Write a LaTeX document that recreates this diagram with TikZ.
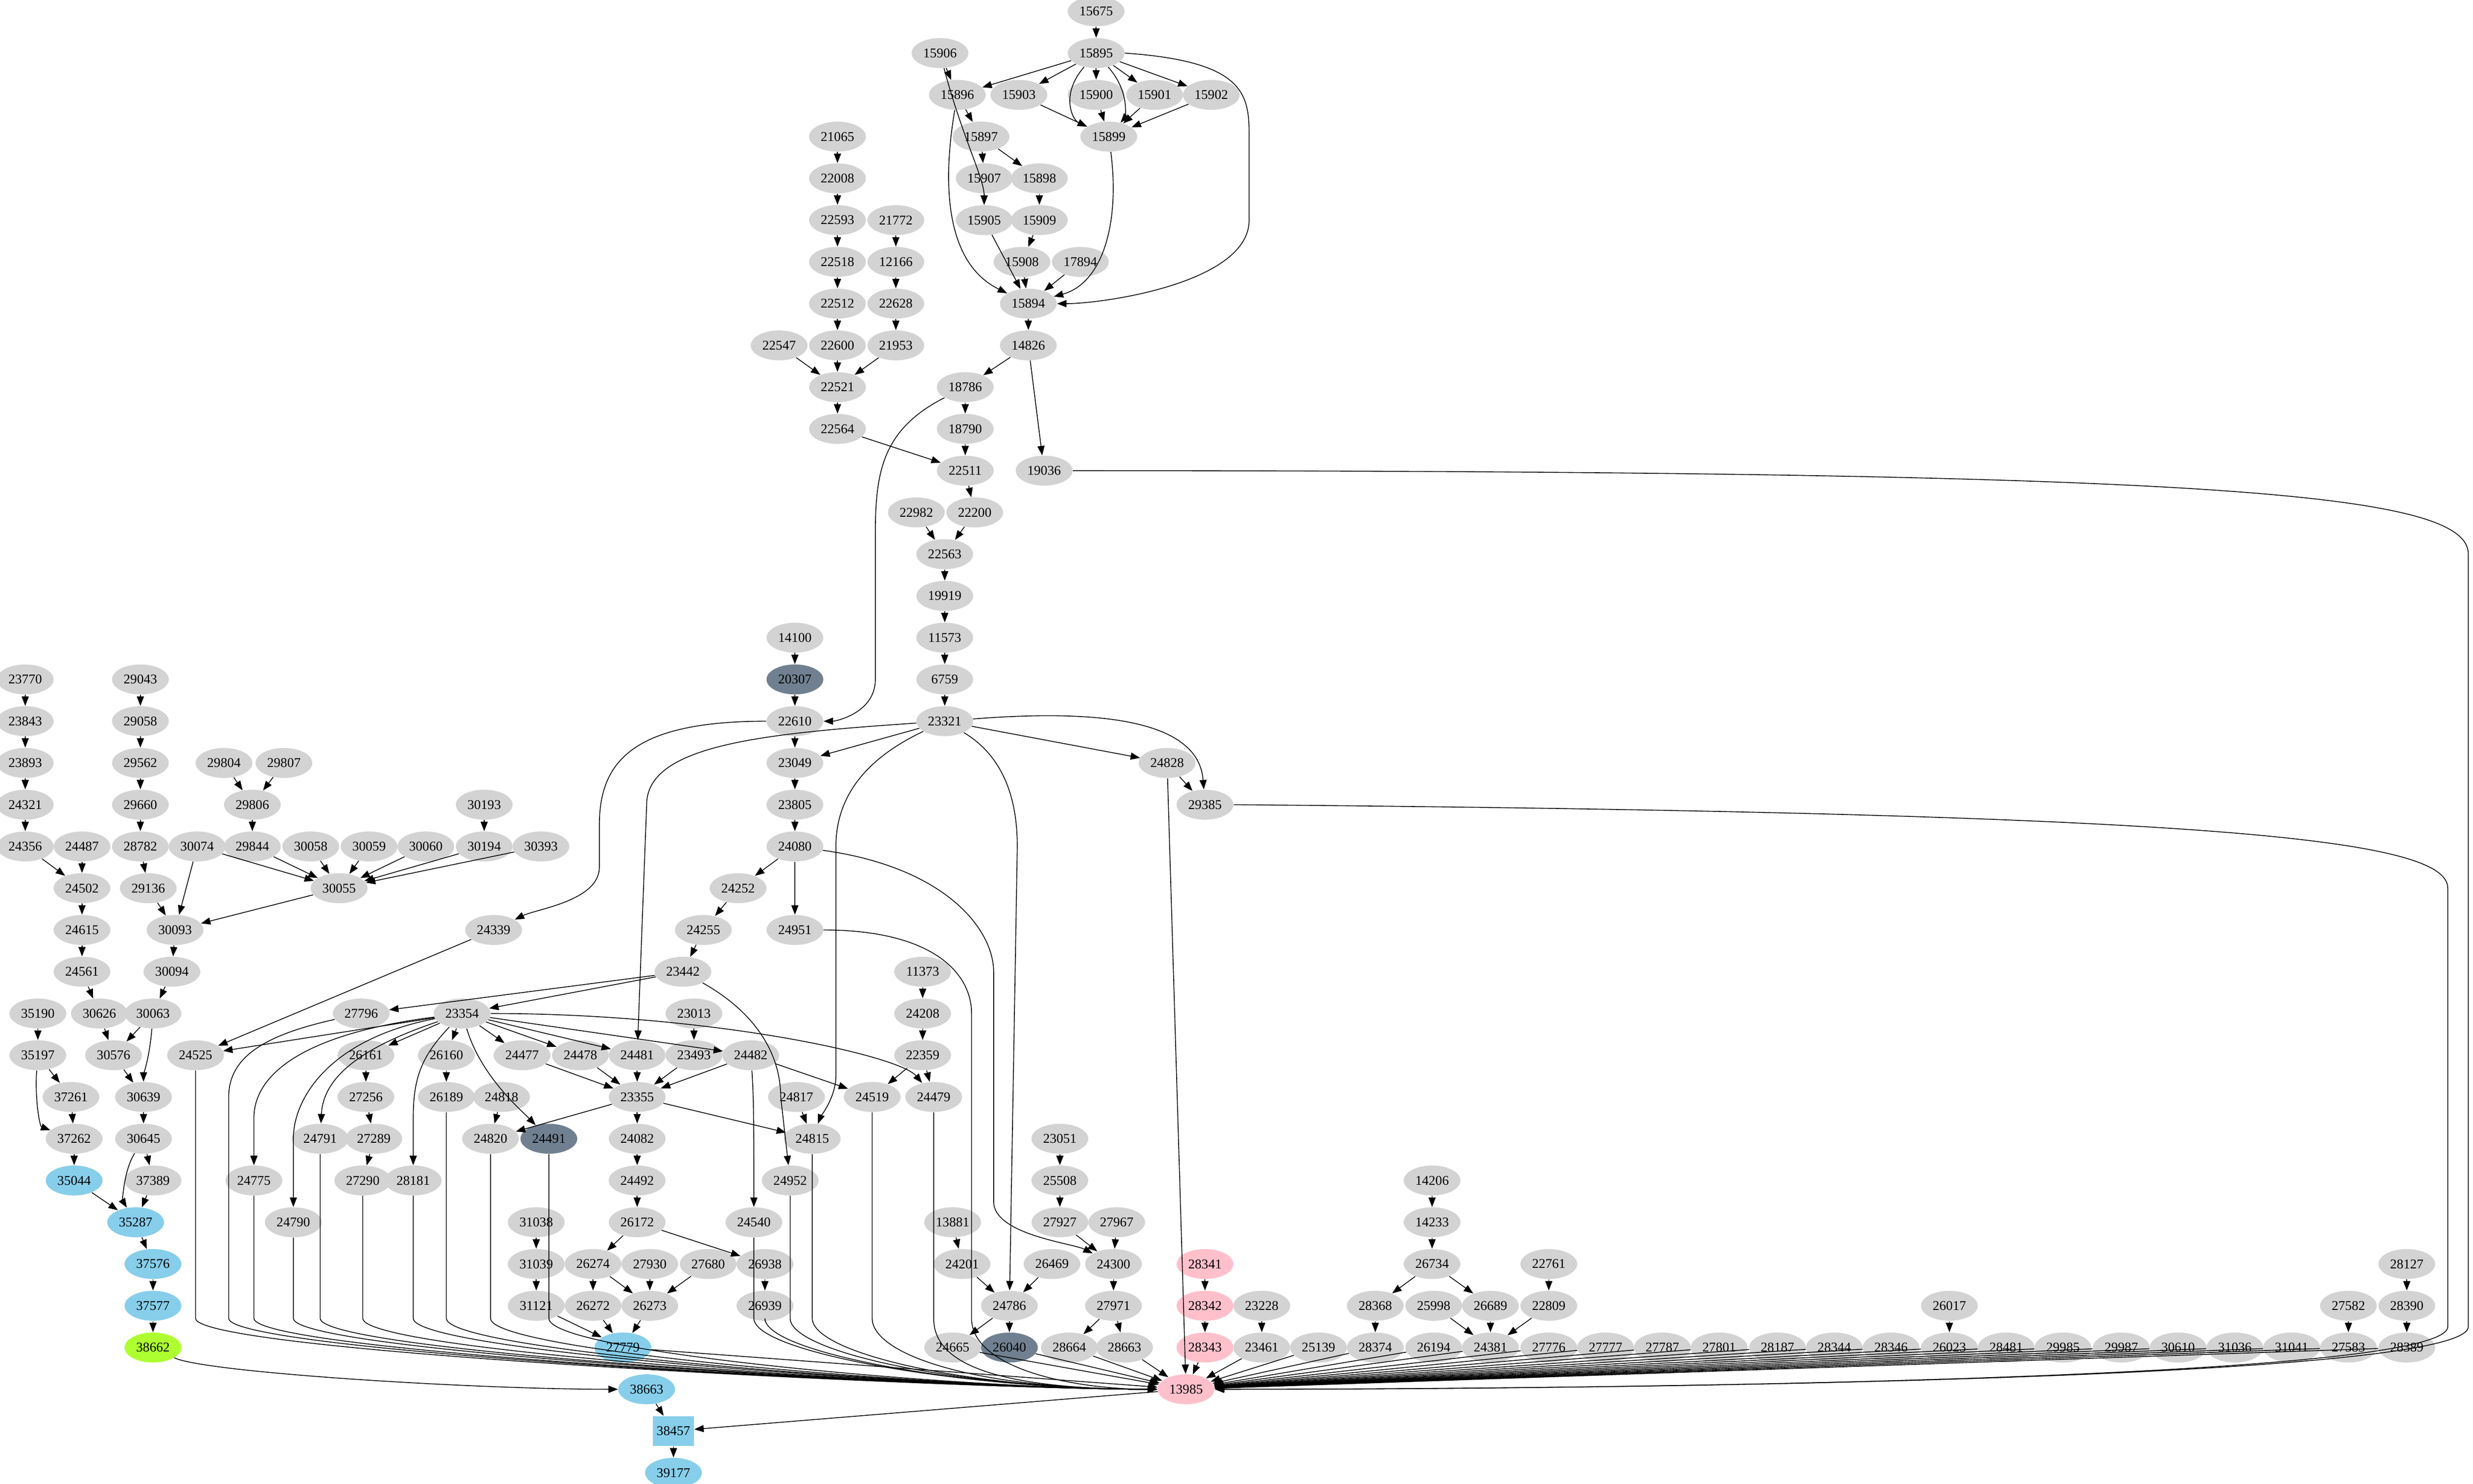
\documentclass[tikz,border=0pt]{standalone}
\usepackage{fontspec}
\setmainfont{Liberation Serif}
\usetikzlibrary{shapes.geometric,arrows.meta}
\definecolor{lg}{HTML}{D3D3D3}
\definecolor{slate}{HTML}{708090}
\definecolor{sky}{HTML}{87CEEB}
\definecolor{gy}{HTML}{ADFF2F}
\definecolor{pk}{HTML}{FFC0CB}
\newcommand\rk[1]{{-7.2-26.48*#1}}
\tikzset{
  g/.style={ellipse,fill=lg,inner sep=0pt,minimum width=36pt,minimum height=19pt,font=\fontsize{8.5}{9}\selectfont},
  e/.style={draw=black,line width=0.5pt,-{Triangle[length=6pt,width=4.5pt]}},
}
\newcommand\Eg[2]{\draw[e] (n#1) -- (n#2);}
\newcommand\Ldown[1]{\draw[e] (n#1) -- (n#1 |- 0,\rk{31.3}) .. controls +(0,-22) and +(-120,0) .. (n13985.west);}
\begin{document}
\begin{tikzpicture}[x=1pt,y=1pt]
\useasboundingbox (0,0) rectangle (1568,-941);
\foreach \r/\lst in {0/{15675/695},1/{15906/596,15895/695},
2/{15896/607,15903/646,15900/695,15901/732,15902/768},
3/{21065/531,15897/622,15899/703},4/{22008/531,15907/624,15898/659},
5/{22593/531,21772/568,15905/624,15909/659},6/{22518/531,12166/568,15908/648,17894/685},
7/{22512/531,22628/568,15894/652},8/{22547/494,22600/531,21953/568,14826/652},
9/{22521/531,18786/612},10/{22564/531,18790/612},11/{22511/612,19036/662},
12/{22982/581,22200/618},13/{22563/599},14/{19919/599},15/{14100/504,11573/599},
16/{23770/16,29043/89,6759/599},17/{23843/16,29058/89,22610/504,23321/599},
18/{23893/16,29562/89,29804/142,29807/180,23049/504,24828/740},
19/{24321/16,29660/89,29806/160,30193/307,23805/504,29385/764},
20/{24356/16,24487/52,28782/89,30074/125,29844/160,30058/197,30059/234,30060/270,30194/307,30393/343,24080/504},
21/{24502/52,29136/94,30055/215,24252/468},
22/{24615/52,30093/111,24339/313,24255/446,24951/504},
23/{24561/52,30094/109,23442/433,11373/585},
24/{35190/24,30626/63,30063/97,27796/229,23354/293,23013/440,24208/585},
25/{35197/24,30576/72,24525/124,26161/232,26160/283,24477/331,24478/368,24481/404,23493/440,24482/476,22359/585},
26/{37261/45,30639/91,27256/232,26189/283,24818/318,23355/404,24817/505,24519/553,24479/592},
27/{37262/47,30645/91,24791/203,27289/237,24820/311,24082/404,24815/515,23051/672},
28/{37389/97,24775/161,27290/230,28181/262,24492/404,24952/501,25508/672,14206/908},
29/{24790/186,31038/340,26172/404,24540/478,13881/604,27927/672,27967/708,14233/908},
30/{31039/340,26274/376,27930/412,27680/449,26938/485,24201/610,26469/667,24300/706,26734/908,22761/982,28127/1526},
31/{31121/340,26272/376,26273/412,26939/485,24786/640,27971/706,23228/800,28368/872,25998/909,26689/945,22809/982,26017/1236,27582/1489,28390/1526},
32/{24665/604,28664/678,28663/713,23461/800,25139/836,28374/872,26194/909,24381/945,27776/982,27777/1018,27787/1054,27801/1090,28187/1127,28344/1163,28346/1199,26023/1236,28481/1272,29985/1308,29987/1345,30610/1381,31036/1417,31041/1453,27583/1489,28389/1526}}{
  \foreach \n/\x in \lst { \node[g] (n\n) at (\x,\rk{\r}) {\n}; }
}
\node[g,fill=slate] (n20307) at (504,\rk{16}) {20307};
\node[g,fill=slate] (n24491) at (348,\rk{27}) {24491};
\node[g,fill=slate] (n26040) at (640,\rk{32}) {26040};
\node[g,fill=sky] (n35044) at (47,\rk{28}) {35044};
\node[g,fill=sky] (n35287) at (86,\rk{29}) {35287};
\node[g,fill=sky] (n37576) at (97,\rk{30}) {37576};
\node[g,fill=sky] (n37577) at (97,\rk{31}) {37577};
\node[g,fill=gy] (n38662) at (97,\rk{32}) {38662};
\node[g,fill=sky] (n27779) at (395,\rk{32}) {27779};
\node[g,fill=pk] (n28341) at (764,\rk{30}) {28341};
\node[g,fill=pk] (n28342) at (764,\rk{31}) {28342};
\node[g,fill=pk] (n28343) at (764,\rk{32}) {28343};
\node[g,fill=pk] (n13985) at (752,\rk{33}) {13985};
\node[g,fill=sky] (n38663) at (410,\rk{33}) {38663};
\node[g,rectangle,fill=sky,minimum width=26pt] (n38457) at (427,\rk{34}) {38457};
\node[g,fill=sky] (n39177) at (427,\rk{35}) {39177};
% top cluster
\Eg{15675}{15895}
\foreach \b in {15896,15903,15900,15901,15902} {\Eg{15895}{\b}}
\draw[e] (n15895) .. controls (672,\rk{2}) and (680,\rk{2.6}) .. (n15899);
\draw[e] (n15895) .. controls (718,\rk{2}) and (712,\rk{2.6}) .. (n15899);
\draw[e] (n15895.east) .. controls (790,\rk{1.2}) and (792,\rk{2}) .. (792,\rk{3}) -- (792,\rk{5}) .. controls (792,\rk{6.5}) and (700,\rk{7}) .. (n15894.east);
\Eg{15906}{15896}
\draw[e] (n15906) .. controls (610,\rk{3}) and (624,\rk{4}) .. (n15905);
\draw[e] (n15896) .. controls (598,\rk{4}) and (598,\rk{6}) .. (n15894);
\foreach \a in {15903,15900,15901,15902} {\Eg{\a}{15899}}
\Eg{15896}{15897}\Eg{15897}{15907}\Eg{15897}{15898}\Eg{15907}{15905}\Eg{15898}{15909}
\Eg{15909}{15908}\Eg{15905}{15894}\Eg{15908}{15894}\Eg{17894}{15894}
\draw[e] (n15899) .. controls (710,\rk{5}) and (700,\rk{6.5}) .. (n15894);
\Eg{15894}{14826}\Eg{14826}{18786}\Eg{14826}{19036}\Eg{18786}{18790}\Eg{18790}{22511}
\draw[e] (n18786) .. controls (560,\rk{10}) and (555,\rk{11}) .. (555,\rk{12.5}) -- (555,\rk{16}) .. controls (555,\rk{16.8}) and (530,\rk{17}) .. (n22610);
\Eg{22564}{22511}\Eg{22511}{22200}\Eg{22982}{22563}\Eg{22200}{22563}
\Eg{22563}{19919}\Eg{19919}{11573}\Eg{11573}{6759}\Eg{6759}{23321}
\Eg{21065}{22008}\Eg{22008}{22593}\Eg{22593}{22518}\Eg{22518}{22512}\Eg{22512}{22600}\Eg{22600}{22521}
\Eg{22547}{22521}\Eg{21772}{12166}\Eg{12166}{22628}\Eg{22628}{21953}\Eg{21953}{22521}\Eg{22521}{22564}
\draw[e] (n19036.east) .. controls (1400,\rk{11}) and (1565,\rk{11.5}) .. (1565,\rk{13}) -- (1565,\rk{31.5}) .. controls (1565,\rk{32.8}) and (1000,\rk{33}) .. (n13985.east);
\Eg{14100}{20307}\Eg{20307}{22610}
% middle
\Eg{22610}{23049}
\draw[e] (n22610.west) .. controls (400,\rk{17}) and (380,\rk{18}) .. (380,\rk{19.5}) -- (380,\rk{20.5}) .. controls (380,\rk{21.3}) and (340,\rk{21.5}) .. (n24339);
\Eg{23321}{23049}\Eg{23321}{24828}
\draw[e] (n23321) .. controls (700,\rk{16.7}) and (760,\rk{17}) .. (n29385);
\draw[e] (n23321) .. controls (480,\rk{17.3}) and (410,\rk{17.6}) .. (410,\rk{19}) -- (n24481);
\draw[e] (n23321) .. controls (560,\rk{17.7}) and (530,\rk{18.5}) .. (530,\rk{20}) -- (530,\rk{25.5}) .. controls (530,\rk{26}) and (520,\rk{26.5}) .. (n24815);
\draw[e] (n23321) .. controls (630,\rk{17.7}) and (645,\rk{18.5}) .. (645,\rk{20}) -- (n24786);
\Eg{24828}{29385}\Eg{24828}{13985}
\draw[e] (n29385.east) .. controls (1400,\rk{19.2}) and (1552,\rk{19.8}) .. (1552,\rk{21}) -- (1552,\rk{31.5}) .. controls (1552,\rk{32.8}) and (1000,\rk{33}) .. (n13985.east);
\Eg{23049}{23805}\Eg{23805}{24080}\Eg{24080}{24252}\Eg{24080}{24951}
\draw[e] (n24080) .. controls (600,\rk{20.5}) and (630,\rk{22}) .. (630,\rk{23}) -- (630,\rk{28.5}) .. controls (630,\rk{29.3}) and (680,\rk{29.5}) .. (n24300);
\draw[e] (n24951) .. controls (590,\rk{22}) and (616,\rk{23}) .. (616,\rk{24}) -- (616,\rk{31.3}) .. controls (616,\rk{32.5}) and (680,\rk{33}) .. (n13985.west);
\Eg{24252}{24255}\Eg{24255}{23442}\Eg{23442}{27796}\Eg{23442}{23354}
\draw[e] (n23442) .. controls (480,\rk{24}) and (495,\rk{25}) .. (495,\rk{26}) -- (n24952);
\Eg{24339}{24525}
% left
\Eg{23770}{23843}\Eg{23843}{23893}\Eg{23893}{24321}\Eg{24321}{24356}\Eg{24356}{24502}\Eg{24487}{24502}
\Eg{24502}{24615}\Eg{24615}{24561}\Eg{24561}{30626}\Eg{30626}{30576}\Eg{30063}{30576}\Eg{30576}{30639}
\draw[e] (n30063) .. controls (95,\rk{25}) and (91,\rk{25.5}) .. (n30639);
\Eg{30639}{30645}\Eg{30645}{37389}\Eg{37389}{35287}
\draw[e] (n30645) .. controls (78,\rk{27.8}) and (78,\rk{28.5}) .. (n35287);
\Eg{35190}{35197}\Eg{35197}{37261}
\draw[e] (n35197) .. controls (22,\rk{26}) and (25,\rk{26.7}) .. (n37262);
\Eg{37261}{37262}\Eg{37262}{35044}\Eg{35044}{35287}\Eg{35287}{37576}\Eg{37576}{37577}\Eg{37577}{38662}
\draw[e] (n38662) .. controls (130,\rk{32.6}) and (300,\rk{33}) .. (n38663);
\Eg{29043}{29058}\Eg{29058}{29562}\Eg{29562}{29660}\Eg{29660}{28782}\Eg{28782}{29136}\Eg{29136}{30093}
\Eg{30074}{30093}\Eg{30074}{30055}\Eg{29804}{29806}\Eg{29807}{29806}\Eg{29806}{29844}\Eg{29844}{30055}
\foreach \a in {30058,30059,30060,30194,30393} {\Eg{\a}{30055}}
\Eg{30193}{30194}\Eg{30055}{30093}\Eg{30093}{30094}\Eg{30094}{30063}
% 23354 fan
\foreach \b in {24525,26161,26160,24477,24478,24481,24482} {\Eg{23354}{\b}}
\draw[e] (n23354) .. controls (450,\rk{24}) and (570,\rk{25}) .. (n24479);
\draw[e] (n23354) .. controls (305,\rk{25.5}) and (330,\rk{26.3}) .. (n24491);
\draw[e] (n23354) .. controls (230,\rk{24.8}) and (205,\rk{25.5}) .. (n24791);
\draw[e] (n23354) .. controls (210,\rk{24.6}) and (186,\rk{26}) .. (186,\rk{27}) -- (n24790);
\draw[e] (n23354) .. controls (190,\rk{24.5}) and (161,\rk{25.5}) .. (161,\rk{26.5}) -- (n24775);
\draw[e] (n23354) .. controls (268,\rk{25}) and (262,\rk{25.5}) .. (262,\rk{26.5}) -- (n28181);
\Eg{26161}{27256}\Eg{27256}{27289}\Eg{27289}{27290}\Eg{26160}{26189}
\foreach \a in {24477,24478,24481,23493,24482} {\Eg{\a}{23355}}
\Eg{23013}{23493}\Eg{24482}{24519}
\draw[e] (n24482) .. controls (478,\rk{26}) and (478,\rk{27}) .. (n24540);
\Eg{11373}{24208}\Eg{24208}{22359}\Eg{22359}{24519}\Eg{22359}{24479}
\Eg{23355}{24820}\Eg{23355}{24815}\Eg{23355}{24082}\Eg{24818}{24820}\Eg{24817}{24815}
\Eg{24082}{24492}\Eg{24492}{26172}\Eg{26172}{26274}\Eg{26172}{26938}\Eg{26274}{26272}\Eg{26274}{26273}
\Eg{27930}{26273}\Eg{27680}{26273}\Eg{26272}{27779}\Eg{26273}{27779}\Eg{31121}{27779}
\Eg{31038}{31039}\Eg{31039}{31121}\Eg{26938}{26939}
% to 13985 from above
\draw[e] (n27796) .. controls (170,\rk{24.5}) and (145,\rk{25}) .. (145,\rk{26}) -- (145,\rk{31.3}) .. controls +(0,-22) and +(-120,0) .. (n13985.west);
\foreach \a in {24525,24775,24790,24791,27290,28181,26189,24820,24491,26939,24540,24952,24815,24519,24479} {\Ldown{\a}}
\Eg{27779}{13985}
% right lower
\Eg{23051}{25508}\Eg{25508}{27927}\Eg{27927}{24300}\Eg{27967}{24300}\Eg{24300}{27971}
\Eg{27971}{28664}\Eg{27971}{28663}\Eg{13881}{24201}\Eg{24201}{24786}\Eg{26469}{24786}
\Eg{24786}{24665}\Eg{24786}{26040}
\Eg{28341}{28342}\Eg{28342}{28343}\Eg{23228}{23461}
\Eg{14206}{14233}\Eg{14233}{26734}\Eg{26734}{28368}\Eg{26734}{26689}\Eg{28368}{28374}
\Eg{25998}{24381}\Eg{26689}{24381}\Eg{22809}{24381}\Eg{22761}{22809}
\Eg{26017}{26023}\Eg{27582}{27583}\Eg{28127}{28390}\Eg{28390}{28389}
\foreach \a in {24665,26040,28664,28663,28343,23461,25139,28374,26194,24381,27776,27777,27787,27801,28187,28344,28346,26023,28481,29985,29987,30610,31036,31041,27583,28389} {\Eg{\a}{13985}}
\Eg{38663}{38457}\Eg{13985}{38457}\Eg{38457}{39177}
\end{tikzpicture}
\end{document}
